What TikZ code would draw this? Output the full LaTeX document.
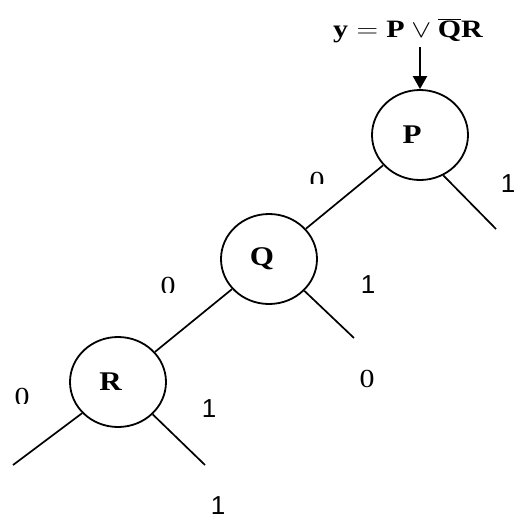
\documentclass[tikz,border=0pt]{standalone}
\usepackage{fontspec}
\setmainfont{Liberation Serif}
\newfontfamily\digsans{Liberation Sans}
\newfontfamily\varfont[FakeStretch=1.15]{Liberation Serif}
\newfontfamily\zerofont[FakeStretch=1.15]{Liberation Serif}
\usetikzlibrary{shapes.geometric,arrows.meta}
\tikzset{
  var/.style={ellipse,draw,line width=1.8pt,minimum width=96pt,minimum height=90pt,inner sep=0pt,font=\fontsize{27}{27}\varfont\bfseries},
  branch/.style={line width=1.7pt},
  zero/.style={anchor=base,inner sep=0pt,font=\fontsize{26}{26}\zerofont},
  one/.style={anchor=base,inner sep=0pt,font=\fontsize{26}{26}\digsans},
  feed/.style={line width=2pt,-{Triangle[length=13pt,width=14pt]}},
}
\begin{document}
\begin{tikzpicture}
\path[use as bounding box] (0pt,0pt) rectangle (517pt,-515pt);
\node[anchor=base,inner sep=0pt,xscale=1.2,transform shape] (title) at (408pt,-37pt) {\fontsize{25}{25}\selectfont$\mathbf{y}=\mathbf{P}\vee\overline{\mathbf{Q}}\mathbf{R}$};
\node[var] (P) at (420pt,-135pt) {P\kern16pt};
\node[var] (Q) at (269pt,-259pt) {Q\kern14pt};
\node[var] (R) at (118pt,-382pt) {R\kern15pt};
\coordinate (a0) at (420pt,-47pt);
\coordinate (Pe) at (496pt,-229pt);
\coordinate (Qe) at (354pt,-338pt);
\coordinate (Rl) at (13pt,-465pt);
\coordinate (Rr) at (205pt,-465pt);
\draw[feed] (a0) -- (P.north);
\draw[branch] (P) -- (Q);
\draw[branch] (Q) -- (R);
\draw[branch] (P.-60) -- (Pe);
\draw[branch] (Q.-42) -- (Qe);
\draw[branch] (R.-43) -- (Rr);
\draw[branch] (R.-139) -- (Rl);
\begin{scope}
\clip (300pt,-165pt) rectangle (335pt,-183pt);
\node[zero] (z1) at (317pt,-189.6pt) {0};
\end{scope}
\begin{scope}
\clip (150pt,-270pt) rectangle (186pt,-292pt);
\node[zero] (z2) at (168pt,-294.6pt) {0};
\end{scope}
\begin{scope}
\clip (350pt,-362pt) rectangle (385pt,-388pt);
\node[zero] (z3) at (367pt,-387pt) {0};
\end{scope}
\begin{scope}
\clip (5pt,-381pt) rectangle (40pt,-403pt);
\node[zero] (z4) at (22pt,-405.6pt) {0};
\end{scope}
\node[one] (o1) at (508pt,-192pt) {1};
\node[one] (o2) at (368pt,-293pt) {1};
\node[one] (o3) at (209pt,-417pt) {1};
\node[one] (o4) at (218pt,-514pt) {1};
\end{tikzpicture}
\end{document}
